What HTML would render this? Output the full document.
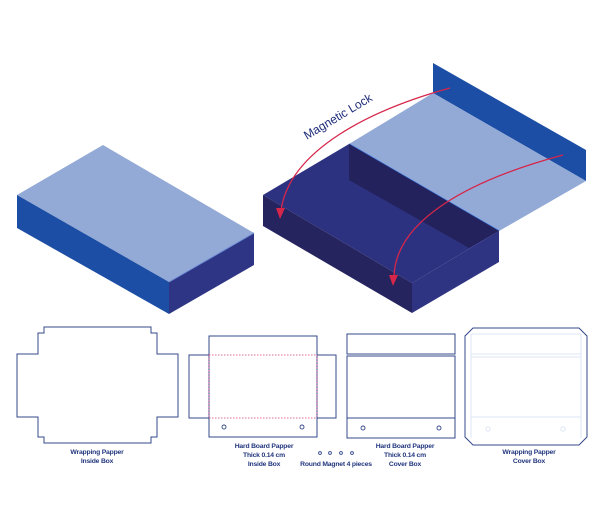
<!DOCTYPE html>
<html><head><meta charset="utf-8"><style>
html,body{margin:0;padding:0;background:#fff;}
svg{display:block}
.t{font-family:"Liberation Sans",sans-serif;font-weight:bold;font-size:6.8px;fill:#22367e;text-anchor:middle;letter-spacing:-0.2px}
</style></head><body>
<svg width="600" height="522" viewBox="0 0 600 522" xmlns="http://www.w3.org/2000/svg">
<!-- left box -->
<polygon points="103,145 17,195 169,282 254,233" fill="#93a9d6"/>
<polygon points="17,195 169,282 169,314 17,228" fill="#1c4ea5"/>
<polygon points="169,282 254,233 254,265 169,314" fill="#2e3585"/>
<line x1="169" y1="282" x2="254" y2="233" stroke="#6f8fd6" stroke-width="1"/>
<!-- right: back wall -->
<polygon points="433,63 586,150 586,181 433,93" fill="#1c4ea5"/>
<!-- lid -->
<polygon points="433,93 586,181 499,231 349,144" fill="#93a9d6"/>
<line x1="349" y1="144" x2="499" y2="231" stroke="#3f7be0" stroke-width="1.5"/>
<!-- box -->
<polygon points="349,144 263,195 412,283 499,231" fill="#2d3280"/>
<polygon points="349,144 499,231 469,248 349,180" fill="#24225c"/>
<polygon points="263,195 412,283 412,313 263,226" fill="#25245f"/>
<polygon points="412,283 499,231 499,262 412,313" fill="#2e3382"/>
<!-- arrows -->
<path d="M450,88 C370,110 290,150 281,210" fill="none" stroke="#d6264a" stroke-width="1.3"/>
<polygon points="276,208 285,208 280,219" fill="#d6264a"/>
<path d="M563,155 C470,180 395,220 394,277" fill="none" stroke="#d6264a" stroke-width="1.3"/>
<polygon points="389,275 398,275 393,286" fill="#d6264a"/>
<text x="340" y="120" transform="rotate(-31 340 120)" font-family="Liberation Sans,sans-serif" font-size="12" fill="#1e2c7a" text-anchor="middle">Magnetic Lock</text>
<!-- flat patterns -->
<g fill="none" stroke="#34488a" stroke-width="1">
<path d="M44,327H151V333H157V354H178V417H157V437H151V443H44V437H38V417H17V354H38V333H44Z"/>
<rect x="209" y="336" width="108" height="101"/>
<rect x="189" y="355" width="20" height="63"/>
<rect x="317" y="355" width="19" height="63"/>
<rect x="347" y="334" width="108" height="20"/>
<rect x="347" y="356" width="108" height="62"/>
<rect x="347" y="418" width="108" height="20"/>
<path d="M473,328H579L587,336V437L579,445H473L465,437V336Z"/>
</g>
<g stroke="#d63a7a" stroke-width="0.8" stroke-dasharray="1.5,1.5" fill="none">
<line x1="209" y1="355" x2="317" y2="355"/><line x1="209" y1="418" x2="317" y2="418"/>
<line x1="209" y1="355" x2="209" y2="418"/><line x1="317" y1="355" x2="317" y2="418"/>
</g>
<g stroke="#dce6f4" stroke-width="1" fill="none">
<line x1="471" y1="334" x2="581" y2="334"/><line x1="471" y1="354" x2="581" y2="354"/><line x1="471" y1="357" x2="581" y2="357"/><line x1="471" y1="417" x2="581" y2="417"/>
<line x1="471" y1="334" x2="471" y2="438"/><line x1="581" y1="334" x2="581" y2="438"/>
<circle cx="488" cy="429" r="2.2"/><circle cx="563" cy="429" r="2.2"/>
</g>
<g stroke="#34488a" stroke-width="0.9" fill="none">
<circle cx="224" cy="427" r="2"/><circle cx="302" cy="427" r="2"/>
<circle cx="363" cy="428" r="2"/><circle cx="439" cy="428" r="2"/>
<circle cx="320" cy="453" r="1.4"/><circle cx="330" cy="453" r="1.4"/><circle cx="341" cy="453" r="1.4"/><circle cx="352" cy="453" r="1.4"/>
</g>
<text class="t" x="97" y="454">Wrapping Papper</text>
<text class="t" x="97" y="463">Inside Box</text>
<text class="t" x="264" y="448">Hard Board Papper</text>
<text class="t" x="264" y="457">Thick 0.14 cm</text>
<text class="t" x="264" y="466">Inside Box</text>
<text class="t" x="336" y="466">Round Magnet 4 pieces</text>
<text class="t" x="405" y="448">Hard Board Papper</text>
<text class="t" x="405" y="457">Thick 0.14 cm</text>
<text class="t" x="405" y="466">Cover Box</text>
<text class="t" x="529" y="454">Wrapping Papper</text>
<text class="t" x="529" y="463">Cover Box</text>
</svg>
</body></html>
